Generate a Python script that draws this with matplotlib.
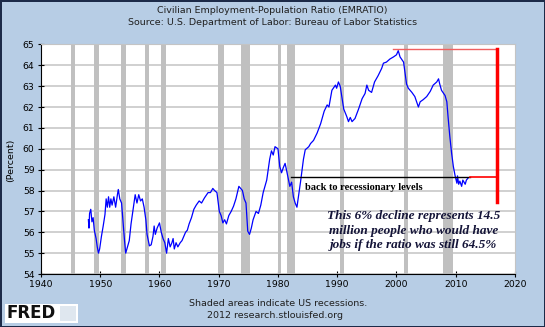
import matplotlib
matplotlib.use("Agg")
import matplotlib.pyplot as plt
from matplotlib.patches import Rectangle

# EMRATIO (percent)
years = [1948.0, 1948.1, 1948.2, 1948.4, 1948.6, 1948.8, 1949.0, 1949.3, 1949.5, 1949.7,
         1949.9, 1950.2, 1950.5, 1950.8, 1951.0, 1951.2, 1951.4, 1951.6, 1951.8, 1952.0,
         1952.3, 1952.6, 1952.9, 1953.05, 1953.3, 1953.6, 1953.9, 1954.1, 1954.3, 1954.6,
         1954.9, 1955.2, 1955.5, 1955.9, 1956.2, 1956.5, 1956.8, 1957.1, 1957.4, 1957.7,
         1957.9, 1958.3, 1958.6, 1958.9, 1959.1, 1959.3, 1959.6, 1960.0, 1960.3, 1960.6,
         1960.9, 1961.2, 1961.5, 1961.8, 1962.1, 1962.3, 1962.5, 1962.8, 1963.1, 1963.5,
         1963.8, 1964.1, 1964.4, 1964.7, 1965.0, 1965.4, 1965.8, 1966.2, 1966.7, 1967.1,
         1967.6, 1968.2, 1968.6, 1969.0, 1969.3, 1969.7, 1970.1, 1970.4, 1970.7, 1971.0,
         1971.3, 1971.7, 1972.1, 1972.5, 1972.9, 1973.4, 1973.7, 1974.0, 1974.3, 1974.6,
         1974.9, 1975.2, 1975.5, 1975.8, 1976.3, 1976.7, 1977.1, 1977.5, 1978.1, 1978.6,
         1978.9, 1979.2, 1979.5, 1980.0, 1980.3, 1980.6, 1980.9, 1981.2, 1981.5, 1982.0,
         1982.3, 1982.6, 1982.9, 1983.2, 1983.4, 1983.8, 1984.3, 1984.6, 1985.2, 1985.5,
         1986.0, 1986.6, 1987.2, 1987.8, 1988.3, 1988.6, 1989.1, 1989.7, 1989.9, 1990.2,
         1990.5, 1991.1, 1991.6, 1991.9, 1992.2, 1992.5, 1993.0, 1993.6, 1994.2, 1994.7,
         1995.0, 1995.3, 1995.8, 1996.3, 1996.9, 1997.5, 1997.8, 1998.3, 1998.9, 1999.5,
         2000.0, 2000.3, 2000.6, 2001.2, 2001.7, 2002.0, 2002.6, 2003.1, 2003.7, 2004.0,
         2004.5, 2005.1, 2005.7, 2006.2, 2006.8, 2007.1, 2007.3, 2007.6, 2008.2, 2008.5,
         2008.7, 2009.0, 2009.3, 2009.6, 2009.9, 2010.2, 2010.3, 2010.5, 2010.7, 2011.0,
         2011.2, 2011.6, 2011.8, 2012.1]
ratio = [56.6, 56.2, 56.9, 57.1, 56.5, 56.7, 56.1, 55.7, 55.3, 55.0,
         55.2, 55.8, 56.3, 56.85, 57.6, 57.2, 57.7, 57.2, 57.6, 57.3,
         57.7, 57.2, 57.8, 58.05, 57.6, 57.4, 56.3, 55.6, 55.0, 55.3,
         55.6, 56.4, 57.0, 57.8, 57.4, 57.8, 57.5, 57.6, 57.2, 56.6,
         55.9, 55.35, 55.4, 55.8, 56.3, 55.9, 56.2, 56.45, 56.0, 55.7,
         55.5, 55.0, 55.7, 55.3, 55.5, 55.7, 55.2, 55.5, 55.3, 55.5,
         55.6, 55.8, 56.0, 56.1, 56.4, 56.7, 57.1, 57.3, 57.5, 57.4,
         57.65, 57.9, 57.9, 58.1, 58.0, 57.9, 57.0, 56.8, 56.45, 56.6,
         56.4, 56.8, 57.0, 57.25, 57.6, 58.2, 58.1, 58.0, 57.6, 57.4,
         56.05, 55.9, 56.2, 56.6, 57.0, 56.9, 57.3, 57.9, 58.5, 59.5,
         59.9, 59.7, 60.1, 60.0, 59.15, 58.85, 59.1, 59.3, 58.9, 58.2,
         58.4, 57.7, 57.4, 57.2, 57.6, 58.4, 59.5, 59.95, 60.1, 60.25,
         60.4, 60.75, 61.2, 61.8, 62.1, 62.0, 62.8, 63.05, 62.9, 63.2,
         63.0, 61.9, 61.55, 61.3, 61.5, 61.3, 61.45, 61.9, 62.4, 62.65,
         63.05, 62.8, 62.7, 63.2, 63.5, 63.85, 64.1, 64.15, 64.3, 64.4,
         64.5, 64.7, 64.4, 64.15, 63.1, 62.9, 62.7, 62.5, 62.0, 62.25,
         62.35, 62.5, 62.75, 63.05, 63.2, 63.35, 63.1, 62.8, 62.55, 62.25,
         61.55, 60.6, 59.8, 59.15, 58.7, 58.35, 58.7, 58.3, 58.45, 58.2,
         58.5, 58.3, 58.5, 58.6]

# NBER recessions (start, end)
rec_start = [1945.1, 1948.9, 1953.5, 1957.6, 1960.3, 1969.9, 1973.8, 1980.0, 1981.5, 1990.5, 2001.2, 2007.9]
rec_end = [1945.8, 1949.8, 1954.4, 1958.3, 1961.1, 1970.9, 1975.2, 1980.5, 1982.9, 1991.2, 2001.9, 2009.5]

peak_level = 64.8
now_level = 58.63
bg = '#b7cde5'

fig = plt.figure(figsize=(5.45, 3.27), dpi=100, facecolor=bg)
fig.patch.set_edgecolor('#1c2a48')
fig.patch.set_linewidth(2)
ax = fig.add_axes([0.0752, 0.162, 0.8697, 0.7023])
ax.set_facecolor('white')

for s, e in zip(rec_start, rec_end):
    ax.axvspan(s, e, color='#c0c0c0', lw=0, zorder=1)

ax.set_xlim(1940, 2020)
ax.set_ylim(54, 65)
ax.set_xticks(range(1940, 2021, 10))
ax.set_yticks(range(54, 66))
ax.grid(axis='y', color='#c4c4c4', lw=1.1, zorder=0)
ax.set_axisbelow(True)
ax.tick_params(labelsize=6.7, length=5, width=0.8, direction='inout')
ax.tick_params(axis='x', pad=1.8)
ax.tick_params(axis='y', pad=2.2)
for side in ['top', 'right']:
    ax.spines[side].set_color('#c4c4c4')
ax.spines['left'].set_color('black')
ax.spines['bottom'].set_color('black')

ax.plot(years, ratio, color='#0000ff', lw=0.9, zorder=3)

# annotations
ax.plot([1982.2, 2012.4], [now_level, now_level], color='black', lw=1, zorder=4)
ax.plot([2012.4, 2016.9], [now_level, now_level], color='red', lw=1.2, zorder=4)
ax.plot([1999.4, 2016.9], [peak_level, peak_level], color='#f06060', lw=1, zorder=4)
ax.plot([2016.9, 2016.9], [peak_level, 57.45], color='red', lw=2.5, zorder=4)
ax.text(1984.5, 58.13, 'back to recessionary levels', family='Liberation Serif',
        weight='bold', size=7.5, va='center', ha='left', zorder=5)
ax.text(2002.9, 56.08, 'This 6% decline represents 14.5\nmillion people who would have\n'
        'jobs if the ratio was still 64.5%', family='Liberation Serif', weight='bold',
        style='italic', size=9.5, color='#141438', ha='center', va='center',
        linespacing=1.25, zorder=5)

fig.text(0.5, 0.969, 'Civilian Employment-Population Ratio (EMRATIO)', ha='center',
         va='center', size=6.8, color='#202020')
fig.text(0.5, 0.932, 'Source: U.S. Department of Labor: Bureau of Labor Statistics',
         ha='center', va='center', size=6.8, color='#202020')
fig.text(0.019, 0.51, '(Percent)', rotation=90, ha='center', va='center', size=6.8)
fig.text(0.51, 0.0713, 'Shaded areas indicate US recessions.', ha='center', va='center',
         size=6.8, color='#202020')
fig.text(0.504, 0.0358, '2012 research.stlouisfed.org', ha='center', va='center',
         size=6.8, color='#202020')

# FRED logo block
fig.patches.append(Rectangle((5 / 545, 1 - 323 / 327), 73 / 545, 19 / 327,
                             transform=fig.transFigure, facecolor='white', edgecolor='none'))
fig.patches.append(Rectangle((60 / 545, 1 - 321 / 327), 16 / 545, 15 / 327,
                             transform=fig.transFigure, facecolor='#dfe7ef', edgecolor='none'))
fig.text(6 / 545, 1 - 313.5 / 327, 'FRED', weight='bold', size=12, color='#111111',
         va='center', ha='left')

fig.savefig('out.png', dpi=100, facecolor=bg, edgecolor=fig.patch.get_edgecolor())
